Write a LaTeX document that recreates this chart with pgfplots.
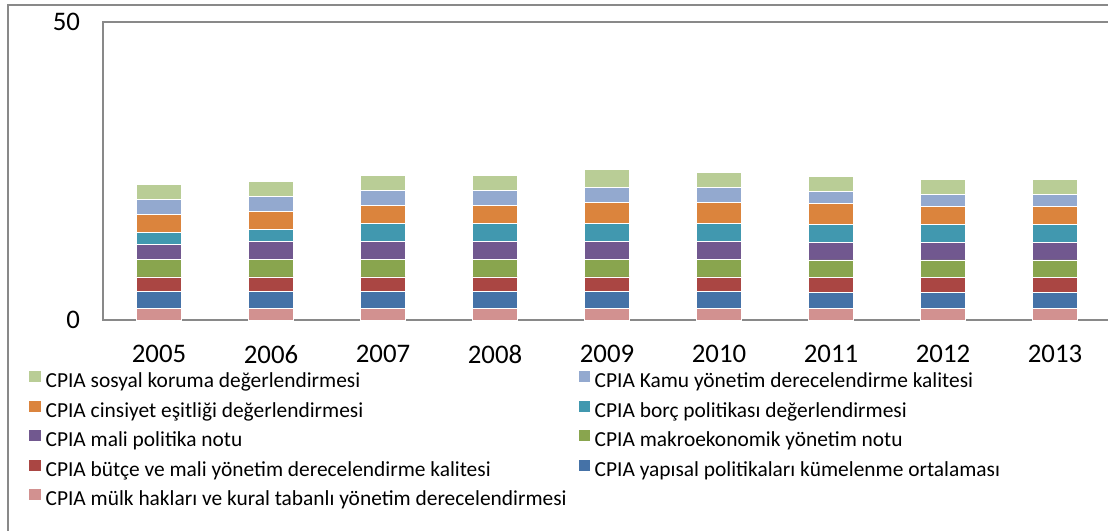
\documentclass[border=0pt]{standalone}
\usepackage{pgfplots}
\pgfplotsset{compat=1.18}
\usepackage{fontspec}
\setmainfont{Carlito}
\definecolor{cPink}{RGB}{210,145,144}
\definecolor{cBlue}{RGB}{69,114,167}
\definecolor{cRed}{RGB}{170,70,67}
\definecolor{cGreen}{RGB}{137,165,78}
\definecolor{cPurple}{RGB}{113,88,143}
\definecolor{cTeal}{RGB}{65,152,175}
\definecolor{cOrange}{RGB}{219,132,61}
\definecolor{cLBlue}{RGB}{147,169,207}
\definecolor{cLGreen}{RGB}{185,205,150}
\definecolor{axgray}{RGB}{137,137,137}
\begin{document}
\begin{tikzpicture}
\path[use as bounding box] (0,0) rectangle (554pt,-265pt);
\clip (0,0) rectangle (554pt,-265pt);
\draw[axgray, line width=0.75pt] (4pt,-2.5pt) rectangle (575pt,-285pt);
\begin{axis}[
  at={(51.5pt,-160pt)}, anchor=south west,
  scale only axis, width=504pt, height=149pt,
  ybar stacked, bar width=22.5pt,
  xmin=-0.5, xmax=8.5, ymin=0, ymax=50,
  xtick={0,1,2,3,4,5,6,7,8},
  xticklabels={2005,2006,2007,2008,2009,2010,2011,2012,2013},
  ytick={0,50}, yticklabels={0,50},
  major tick length=0pt,
  axis line style={draw=axgray, line width=0.75pt},
  tick label style={font=\fontsize{13.4}{15}\selectfont},
  yticklabel style={xshift=-8pt},
  xticklabel style={yshift=-9pt},
  legend columns=2, reverse legend,
  legend cell align=left,
  legend style={at={(axis description cs:-0.0734,-0.1711)}, anchor=north west,
    draw=none, fill=none, inner sep=0pt,
    font=\fontsize{10.7}{12}\selectfont,
    nodes={inner sep=0pt, text height=8pt, text depth=2.5pt},
    row sep=4pt,
    /tikz/every odd column/.append style={column sep=2.3pt},
    /tikz/every even column/.append style={column sep=6pt}},
  legend image code/.code={\fill[#1, draw=none] (0pt,0pt) rectangle (5.8pt,5.5pt);},
  every axis plot/.append style={draw=white, line width=0.4pt},
]
\addplot[fill=cPink] coordinates {(0,1.9) (1,1.9) (2,1.9) (3,1.9) (4,1.9) (5,1.9) (6,1.9) (7,1.9) (8,1.9)};
\addlegendentry{CPIA mülk hakları ve kural tabanlı yönetim derecelendirmesi}
\addplot[fill=cBlue] coordinates {(0,2.83) (1,2.83) (2,2.83) (3,2.83) (4,2.83) (5,2.83) (6,2.67) (7,2.67) (8,2.67)};
\addlegendentry{CPIA yapısal politikaları kümelenme ortalaması}
\addplot[fill=cRed] coordinates {(0,2.5) (1,2.5) (2,2.5) (3,2.5) (4,2.5) (5,2.5) (6,2.5) (7,2.5) (8,2.5)};
\addlegendentry{CPIA bütçe ve mali yönetim derecelendirme kalitesi}
\addplot[fill=cGreen] coordinates {(0,3) (1,3) (2,3) (3,3) (4,3) (5,3) (6,3) (7,3) (8,3)};
\addlegendentry{CPIA makroekonomik yönetim notu}
\addplot[fill=cPurple] coordinates {(0,2.5) (1,3) (2,3) (3,3) (4,3) (5,3) (6,3) (7,3) (8,3)};
\addlegendentry{CPIA mali politika notu}
\addplot[fill=cTeal] coordinates {(0,2) (1,2) (2,3) (3,3) (4,3) (5,3) (6,3) (7,3) (8,3)};
\addlegendentry{CPIA borç politikası değerlendirmesi}
\addplot[fill=cOrange] coordinates {(0,3) (1,3) (2,3) (3,3) (4,3.5) (5,3.5) (6,3.5) (7,3) (8,3)};
\addlegendentry{CPIA cinsiyet eşitliği değerlendirmesi}
\addplot[fill=cLBlue] coordinates {(0,2.5) (1,2.5) (2,2.5) (3,2.5) (4,2.5) (5,2.5) (6,2) (7,2) (8,2)};
\addlegendentry{CPIA Kamu yönetim derecelendirme kalitesi}
\addplot[fill=cLGreen] coordinates {(0,2.5) (1,2.5) (2,2.5) (3,2.5) (4,3) (5,2.5) (6,2.5) (7,2.5) (8,2.5)};
\addlegendentry{CPIA sosyal koruma değerlendirmesi}
\end{axis}
\end{tikzpicture}
\end{document}
